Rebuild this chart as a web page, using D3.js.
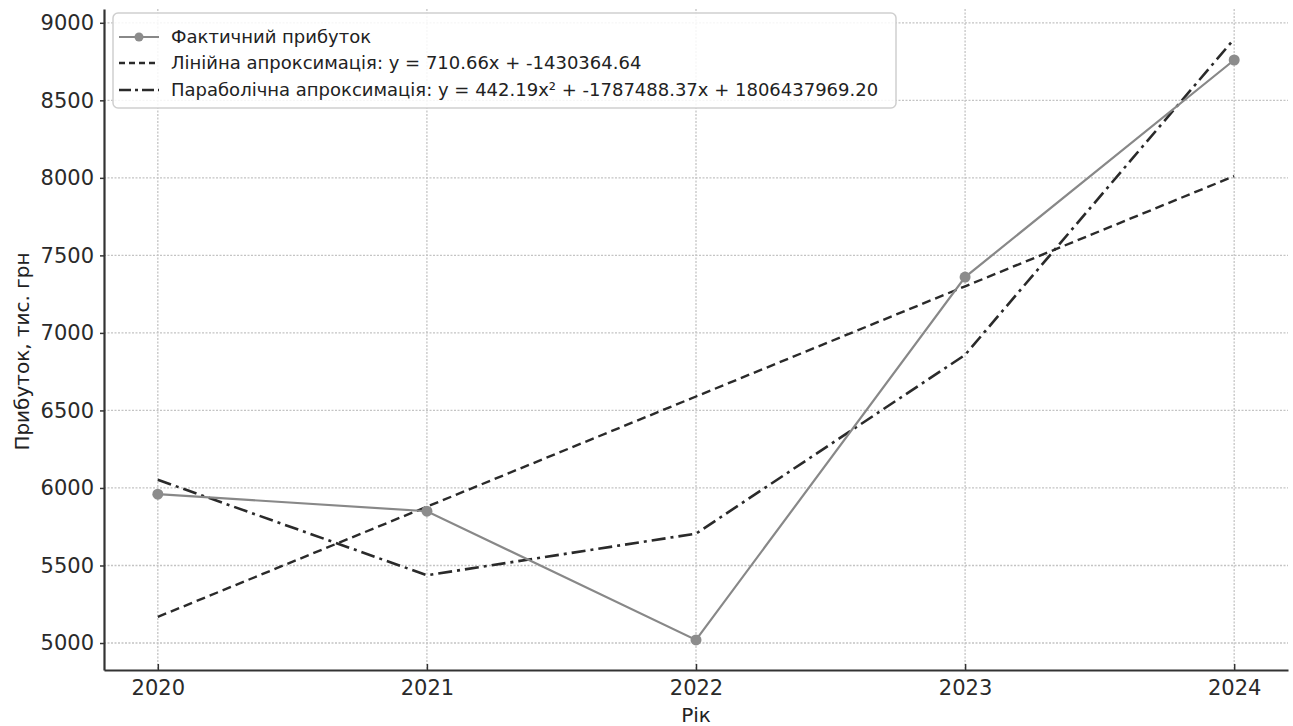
<!DOCTYPE html>
<html><head><meta charset="utf-8">
<script src="https://cdn.jsdelivr.net/npm/d3@7"></script>
<style>body{margin:0;background:#fff}text{font-family:"DejaVu Sans",sans-serif}</style>
</head><body><svg id="c" width="1293" height="726"></svg>
<script>
const years = [2020, 2021, 2022, 2023, 2024];
const actual = [5960, 5850, 5020, 7360, 8760];
const linearFit = [5168.6, 5879.2, 6589.9, 7300.5, 8011.2];
const parabolicFit = [6052.9, 5437.0, 5705.5, 6858.4, 8895.6];
const yTicks = [5000, 5500, 6000, 6500, 7000, 7500, 8000, 8500, 9000];
const legendLabels = [
  "Фактичний прибуток",
  "Лінійна апроксимація: y = 710.66x + -1430364.64",
  "Параболічна апроксимація: y = 442.19x² + -1787488.37x + 1806437969.20"
];
const xTitle = "Рік";
const yTitle = "Прибуток, тис. грн";

const svg = d3.select("#c");
const L = 104, R = 1288, T = 9, B = 670;
const x = d3.scaleLinear().domain([2019.8, 2024.2]).range([L, R]);
const y = d3.scaleLinear().domain([4826, 9089]).range([B, T]);

// grid
const g = svg.append("g");
g.selectAll(".gy").data(yTicks).join("line")
  .attr("x1", L).attr("x2", R).attr("y1", d => y(d)).attr("y2", d => y(d))
  .attr("stroke", "#c4c4c4").attr("stroke-width", 1.3).attr("stroke-dasharray", "2,1.5");
g.selectAll(".gx").data(years).join("line")
  .attr("y1", T).attr("y2", B).attr("x1", d => x(d)).attr("x2", d => x(d))
  .attr("stroke", "#c4c4c4").attr("stroke-width", 1.3).attr("stroke-dasharray", "2,1.5");

// axes
const xAxis = d3.axisBottom(x).tickValues(years).tickFormat(d3.format("d")).tickSizeInner(-6).tickSizeOuter(0).tickPadding(10);
const yAxis = d3.axisLeft(y).tickValues(yTicks).tickFormat(d3.format("d")).tickSizeInner(4).tickSizeOuter(0).tickPadding(6);
const gx = svg.append("g").attr("transform", `translate(0,${B})`).call(xAxis);
const gy = svg.append("g").attr("transform", `translate(${L},0)`).call(yAxis);
[gx, gy].forEach(a => {
  a.select(".domain").attr("stroke", "#333").attr("stroke-width", 2.2);
  a.selectAll(".tick line").attr("stroke", "#333").attr("stroke-width", 1.5);
  a.selectAll(".tick text").attr("fill", "#2a2a2a").style("font-size", "21px").style("font-family", "DejaVu Sans");
});
gx.selectAll(".tick text").attr("dy", "0.71em");

svg.append("text").attr("x", (L + R) / 2).attr("y", 722).attr("text-anchor", "middle")
  .style("font-size", "20px").attr("fill", "#222").text(xTitle);
svg.append("text").attr("transform", `translate(29,${(T + B) / 2 + 12}) rotate(-90)`).attr("text-anchor", "middle")
  .style("font-size", "20px").attr("fill", "#222").text(yTitle);

// lines
const line = d3.line().x((d, i) => x(years[i])).y(d => y(d));
svg.append("path").datum(linearFit).attr("d", line).attr("fill", "none")
  .attr("stroke", "#2a2a2a").attr("stroke-width", 2.4).attr("stroke-dasharray", "9,5");
svg.append("path").datum(parabolicFit).attr("d", line).attr("fill", "none")
  .attr("stroke", "#2a2a2a").attr("stroke-width", 2.6).attr("stroke-dasharray", "14,5,3,5");
svg.append("path").datum(actual).attr("d", line).attr("fill", "none")
  .attr("stroke", "#888").attr("stroke-width", 2.2);
svg.selectAll(".pt").data(actual).join("circle")
  .attr("cx", (d, i) => x(years[i])).attr("cy", d => y(d)).attr("r", 5.5).attr("fill", "#8c8c8c");

// legend
const lg = svg.append("g");
lg.append("rect").attr("x", 113).attr("y", 13).attr("width", 783).attr("height", 95).attr("rx", 5)
  .attr("fill", "#fff").attr("fill-opacity", 0.85).attr("stroke", "#cfcfcf").attr("stroke-width", 1.5);
const ly = [37, 63, 90];
const styles = [
  {stroke: "#888", dash: null, w: 2.2, marker: true},
  {stroke: "#2a2a2a", dash: "6,4", w: 2.4, marker: false},
  {stroke: "#2a2a2a", dash: "12,4,3,4", w: 2.6, marker: false}
];
legendLabels.forEach((t, i) => {
  const s = styles[i];
  lg.append("line").attr("x1", 119).attr("x2", 159).attr("y1", ly[i]).attr("y2", ly[i])
    .attr("stroke", s.stroke).attr("stroke-width", s.w).attr("stroke-dasharray", s.dash);
  if (s.marker) lg.append("circle").attr("cx", 139).attr("cy", ly[i]).attr("r", 4.5).attr("fill", "#8c8c8c");
  lg.append("text").attr("x", 171).attr("y", ly[i]).attr("dy", "0.35em")
    .style("font-size", "18px").attr("fill", "#222").text(t);
});
</script></body></html>
